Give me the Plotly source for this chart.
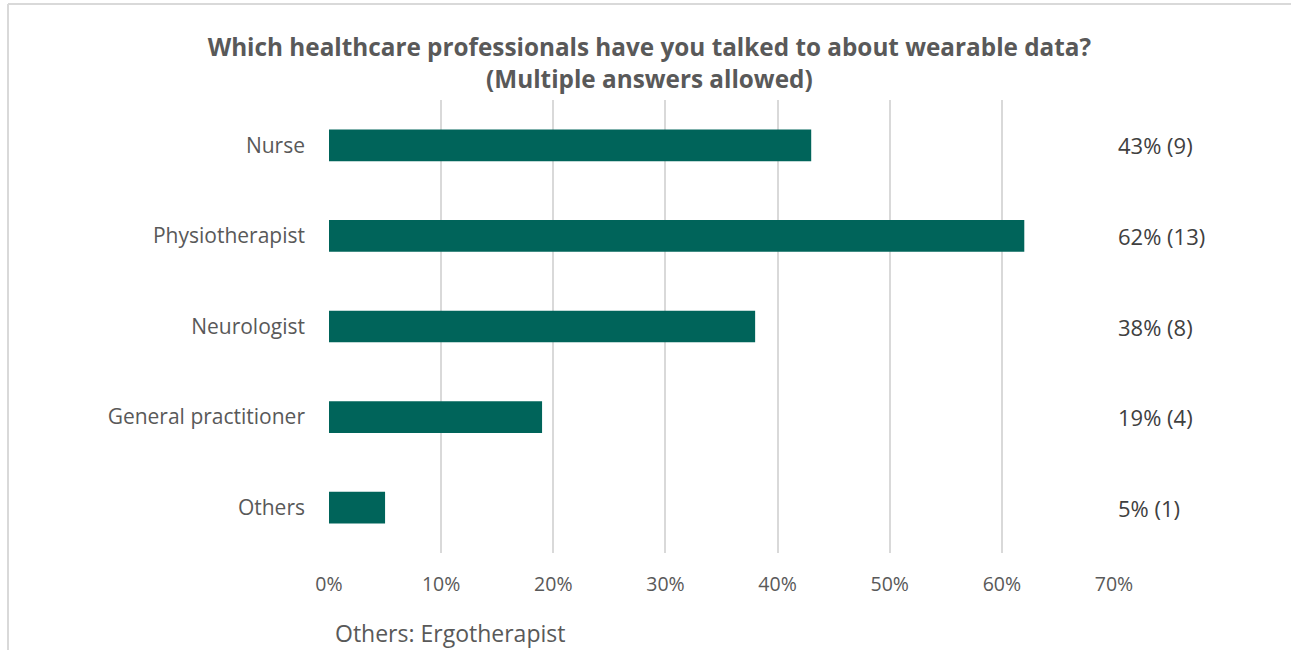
import plotly.graph_objects as go

categories = ["Nurse", "Physiotherapist", "Neurologist", "General practitioner", "Others"]
percent = [43, 62, 38, 19, 5]
counts = [9, 13, 8, 4, 1]
x_ticks = [0, 10, 20, 30, 40, 50, 60, 70]
x_tick_labels = ["0%", "10%", "20%", "30%", "40%", "50%", "60%", "70%"]
footnote = "Others: Ergotherapist"

TEXT = "#595959"
FONT = "Open Sans"

W, H = 1291, 650
L, R, T, B = 329, 177, 100, 97
PW, PH = W - L - R, H - T - B


def px_to_paper(px, py):
    """Convert page pixels (top-left origin) to paper coordinates."""
    return (px - L) / PW, (H - B - py) / PH


fig = go.Figure()
fig.add_trace(go.Bar(
    x=percent,
    y=categories,
    orientation="h",
    width=0.35,
    marker=dict(color="#00645A", line=dict(width=0)),
    hoverinfo="x+y",
))

# value labels in a column right of the plot area
for cat, p, c in zip(categories, percent, counts):
    fig.add_annotation(
        x=70, y=cat, xref="x", yref="y",
        text=f"{p}% ({c})", showarrow=False,
        xanchor="left", xshift=2,
        font=dict(family=FONT, size=22, color="#404040"),
    )

fx, fy = px_to_paper(333, 633)
fig.add_annotation(
    x=fx, y=fy, xref="paper", yref="paper",
    text=footnote, showarrow=False,
    xanchor="left", yanchor="middle",
    font=dict(family=FONT, size=23, color=TEXT),
)

fig.update_layout(
    width=W, height=H,
    margin=dict(l=L, r=R, t=T, b=B),
    paper_bgcolor="white", plot_bgcolor="white",
    showlegend=False,
    title=dict(
        text="<b>Which healthcare professionals have you talked to about wearable data?<br>(Multiple answers allowed)</b>",
        x=0.503, xanchor="center", y=1 - 56 / H, yanchor="middle",
        font=dict(family=FONT, size=24.3, color=TEXT),
    ),
    xaxis=dict(
        range=[0, 70], tickvals=x_ticks, ticktext=x_tick_labels,
        showgrid=True, gridcolor="#D9D9D9", gridwidth=2,
        zeroline=False, showline=False, ticks="",
        tickfont=dict(family=FONT, size=19.5, color=TEXT),
        ticklabelstandoff=17,
    ),
    yaxis=dict(
        categoryorder="array", categoryarray=categories[::-1],
        showgrid=False, zeroline=False, showline=False, ticks="",
        tickfont=dict(family=FONT, size=21, color=TEXT),
        ticklabelstandoff=23,
    ),
)

# outer frame lines along the top and left edges
x0, y0 = px_to_paper(8, 4)
x1, y1 = px_to_paper(W, H)
fig.add_shape(type="line", xref="paper", yref="paper", x0=x0, x1=x1, y0=y0, y1=y0,
              line=dict(color="#D9D9D9", width=2))
fig.add_shape(type="line", xref="paper", yref="paper", x0=x0, x1=x0, y0=y0, y1=y1,
              line=dict(color="#D9D9D9", width=2))

fig.write_html("out.html", config={"displayModeBar": False})
